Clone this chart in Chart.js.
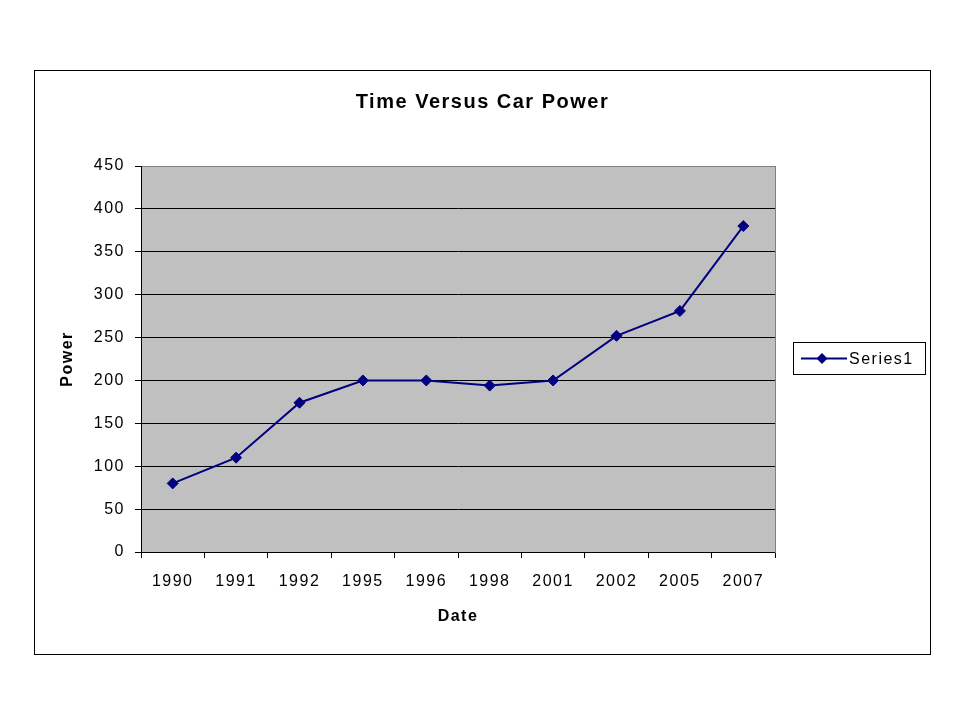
<!DOCTYPE html>
<html>
<head>
<meta charset="utf-8">
<script src="https://cdn.jsdelivr.net/npm/chart.js@4/dist/chart.umd.min.js"></script>
<style>
  html, body { margin: 0; padding: 0; background: #fff; }
  #wrap { width: 960px; height: 720px; }
</style>
</head>
<body>
<div id="wrap"><canvas id="c" width="960" height="720"></canvas></div>
<script>
const categories = ['1990', '1991', '1992', '1995', '1996', '1998', '2001', '2002', '2005', '2007'];
const powerValues = [80, 110, 174, 200, 200, 194, 200, 252, 281, 380];
const seriesName = 'Series1';
const chartTitle = 'Time Versus Car Power';
const xTitle = 'Date';
const yTitle = 'Power';
const yMin = 0, yMax = 450, yStep = 50;

const FONT = '"Liberation Sans", Arial, sans-serif';
const NAVY = '#000080';
const SPACING = '1.5px';

const framePlugin = {
  id: 'frame',
  beforeLayout(chart) { chart.ctx.letterSpacing = SPACING; },
  beforeDraw(chart) {
    const ctx = chart.ctx;
    ctx.save();
    ctx.fillStyle = '#fff';
    ctx.fillRect(0, 0, chart.width, chart.height);
    const a = chart.chartArea;
    ctx.fillStyle = '#C0C0C0';
    ctx.fillRect(a.left, a.top, a.right - a.left, a.bottom - a.top);
    ctx.strokeStyle = '#000';
    ctx.lineWidth = 1;
    ctx.strokeRect(34.5, 70.5, 896, 584);
    ctx.restore();
    ctx.letterSpacing = SPACING;
  },
  afterDraw(chart) {
    const ctx = chart.ctx;
    const ds = chart.data.datasets[0];
    ctx.save();
    ctx.letterSpacing = SPACING;
    ctx.strokeStyle = '#000';
    ctx.lineWidth = 1;
    ctx.fillStyle = '#fff';
    ctx.fillRect(793.5, 342.5, 132, 32);
    ctx.strokeRect(793.5, 342.5, 132, 32);
    const cy = 358.5;
    ctx.strokeStyle = ds.borderColor;
    ctx.lineWidth = 2;
    ctx.beginPath();
    ctx.moveTo(801, cy);
    ctx.lineTo(847, cy);
    ctx.stroke();
    ctx.fillStyle = ds.pointBackgroundColor;
    ctx.beginPath();
    const r = 5.5;
    ctx.moveTo(822, cy - r);
    ctx.lineTo(822 + r, cy);
    ctx.lineTo(822, cy + r);
    ctx.lineTo(822 - r, cy);
    ctx.closePath();
    ctx.fill();
    ctx.fillStyle = '#000';
    ctx.font = '16px ' + FONT;
    ctx.textBaseline = 'middle';
    ctx.textAlign = 'left';
    ctx.fillText(ds.label, 849, cy + 1);
    ctx.restore();
  }
};

new Chart(document.getElementById('c'), {
  type: 'line',
  data: {
    labels: categories,
    datasets: [{
      label: seriesName,
      data: powerValues,
      borderColor: NAVY,
      backgroundColor: NAVY,
      pointBackgroundColor: NAVY,
      pointBorderColor: NAVY,
      pointStyle: 'rectRot',
      pointRadius: 5.5,
      pointBorderWidth: 1,
      borderWidth: 2,
      tension: 0,
      fill: false,
      yAxisID: 'y'
    }]
  },
  options: {
    responsive: false,
    animation: false,
    devicePixelRatio: 1,
    layout: { padding: { left: 34, top: 70, right: 29, bottom: 66 } },
    plugins: {
      legend: { display: false },
      tooltip: { enabled: false },
      title: {
        display: true,
        text: chartTitle,
        color: '#000',
        font: { family: FONT, size: 20, weight: 'bold' },
        padding: { top: 20, bottom: 52 }
      }
    },
    scales: {
      x: {
        type: 'category',
        offset: true,
        grid: { offset: true, drawOnChartArea: false, drawTicks: true, tickLength: 6, color: '#000' },
        border: { display: true, color: '#000', width: 1 },
        ticks: { color: '#000', font: { family: FONT, size: 16 }, padding: 14, maxRotation: 0, autoSkip: false },
        title: { display: true, text: xTitle, color: '#000', font: { family: FONT, size: 16, weight: 'bold' }, padding: { top: 0, bottom: 28 } },
        afterFit(scale) { scale.height = 102; }
      },
      y: {
        position: 'left',
        min: yMin, max: yMax,
        grid: {
          color: (c) => (c.tick && c.tick.value === yMax) ? '#808080' : '#000',
          tickColor: '#000',
          tickLength: 6,
          drawTicks: true
        },
        border: { display: true, color: '#000', width: 1 },
        ticks: { stepSize: yStep, color: '#000', font: { family: FONT, size: 16 }, padding: 10 },
        title: { display: true, text: yTitle, color: '#000', font: { family: FONT, size: 16, weight: 'bold' }, padding: { top: 24, bottom: 0 } },
        afterFit(scale) { scale.width = 107; }
      },
      y2: {
        position: 'right',
        min: yMin, max: yMax,
        grid: { drawOnChartArea: false, drawTicks: false },
        border: { display: true, color: '#808080', width: 1 },
        ticks: { display: false },
        afterFit(scale) { scale.width = 156; }
      }
    }
  },
  plugins: [framePlugin]
});
</script>
</body>
</html>
